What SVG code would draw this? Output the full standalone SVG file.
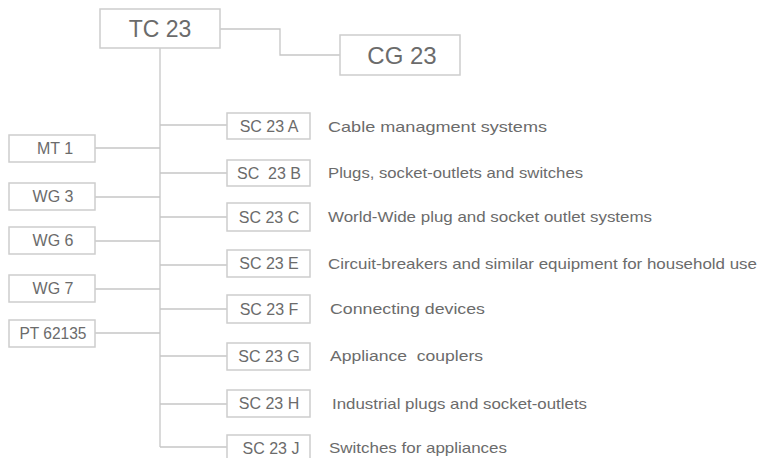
<svg xmlns="http://www.w3.org/2000/svg" width="762" height="458" viewBox="0 0 762 458">
<style>
.box{fill:#ffffff;stroke:#cdcdcd;stroke-width:1.5}
.ln{fill:none;stroke:#c6c6c6;stroke-width:1.3}
.t{font-family:"Liberation Sans",Arial,sans-serif;fill:#6b6b6b;text-anchor:middle}
.s{font-size:16px}
.l{font-size:16px}
.d{font-family:"Liberation Sans",Arial,sans-serif;fill:#6b6b6b;font-size:15px;white-space:pre}
</style>
<rect width="762" height="458" fill="#ffffff"/>
<g id="connectors">
<polyline class="ln" points="220,29 280,29 280,55 340,55"/>
<line class="ln" x1="160" y1="48" x2="160" y2="447"/>
<line class="ln" x1="160" y1="125" x2="227" y2="125"/>
<line class="ln" x1="160" y1="173" x2="227" y2="173"/>
<line class="ln" x1="160" y1="217" x2="227" y2="217"/>
<line class="ln" x1="160" y1="265" x2="227" y2="265"/>
<line class="ln" x1="160" y1="309" x2="227" y2="309"/>
<line class="ln" x1="160" y1="356" x2="227" y2="356"/>
<line class="ln" x1="160" y1="404" x2="227" y2="404"/>
<line class="ln" x1="160" y1="447" x2="227" y2="447"/>
<line class="ln" x1="95" y1="148" x2="160" y2="148"/>
<line class="ln" x1="95" y1="197" x2="160" y2="197"/>
<line class="ln" x1="95" y1="241" x2="160" y2="241"/>
<line class="ln" x1="95" y1="289" x2="160" y2="289"/>
<line class="ln" x1="95" y1="333" x2="160" y2="333"/>
</g>
<g id="tc23"><rect class="box" x="100" y="9" width="120" height="39"/><text class="t" x="160" y="37" font-size="23">TC 23</text></g>
<g id="cg23"><rect class="box" x="340" y="35" width="120" height="40"/><text class="t" x="402" y="64" font-size="24">CG 23</text></g>
<g id="mt1"><rect class="box" x="9" y="135" width="86" height="27"/><text class="t l" x="55" y="154">MT 1</text></g>
<g id="wg3"><rect class="box" x="9" y="183" width="86" height="27"/><text class="t l" x="53" y="202">WG 3</text></g>
<g id="wg6"><rect class="box" x="9" y="227" width="86" height="27"/><text class="t l" x="53" y="246">WG 6</text></g>
<g id="wg7"><rect class="box" x="9" y="275" width="86" height="27"/><text class="t l" x="53" y="294">WG 7</text></g>
<g id="pt62135"><rect class="box" x="9" y="320" width="86" height="27"/><text class="t l" x="53" y="339" textLength="67" lengthAdjust="spacingAndGlyphs">PT 62135</text></g>
<g id="sc23a"><rect class="box" x="227" y="113" width="83" height="26"/><text class="t s" x="269" y="132">SC 23 A</text><text class="d" x="328" y="132" textLength="219" lengthAdjust="spacingAndGlyphs">Cable managment systems</text></g>
<g id="sc23b"><rect class="box" x="227" y="160" width="83" height="26"/><text class="t s" x="269" y="179" xml:space="preserve">SC  23 B</text><text class="d" x="328" y="178" textLength="255" lengthAdjust="spacingAndGlyphs">Plugs, socket-outlets and switches</text></g>
<g id="sc23c"><rect class="box" x="227" y="203" width="83" height="28"/><text class="t s" x="269" y="223">SC 23 C</text><text class="d" x="328" y="222" textLength="324" lengthAdjust="spacingAndGlyphs">World-Wide plug and socket outlet systems</text></g>
<g id="sc23e"><rect class="box" x="227" y="250" width="83" height="27"/><text class="t s" x="269" y="269">SC 23 E</text><text class="d" x="328" y="269" textLength="429" lengthAdjust="spacingAndGlyphs">Circuit-breakers and similar equipment for household use</text></g>
<g id="sc23f"><rect class="box" x="227" y="295" width="83" height="28"/><text class="t s" x="269" y="315">SC 23 F</text><text class="d" x="330" y="314" textLength="155" lengthAdjust="spacingAndGlyphs">Connecting devices</text></g>
<g id="sc23g"><rect class="box" x="227" y="343" width="83" height="27"/><text class="t s" x="269" y="362">SC 23 G</text><text class="d" x="330" y="361" textLength="153" lengthAdjust="spacingAndGlyphs" xml:space="preserve">Appliance  couplers</text></g>
<g id="sc23h"><rect class="box" x="227" y="390" width="83" height="27"/><text class="t s" x="269" y="409">SC 23 H</text><text class="d" x="332" y="409" textLength="255" lengthAdjust="spacingAndGlyphs">Industrial plugs and socket-outlets</text></g>
<g id="sc23j"><rect class="box" x="227" y="435" width="83" height="27"/><text class="t s" x="271" y="454">SC 23 J</text><text class="d" x="329" y="453" textLength="178" lengthAdjust="spacingAndGlyphs">Switches for appliances</text></g>
</svg>
